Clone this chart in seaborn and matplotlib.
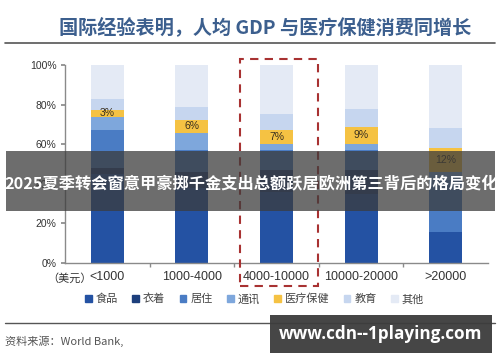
import matplotlib
matplotlib.use("Agg")
import matplotlib.pyplot as plt
import matplotlib.patches as mpatches
from matplotlib.lines import Line2D
import seaborn as sns
import numpy as np

# ---- data (percent of consumption, bottom to top) ----
categories = ['<1000', '1000-4000', '4000-10000', '10000-20000', '>20000']
series_names = ['食品', '衣着', '居住', '通讯', '医疗保健', '教育', '其他']
food      = [45.0, 38.0, 36.0, 35.0, 15.7]
clothing  = [3.0, 8.0, 11.0, 12.0, 0.0]
housing   = [19.2, 11.0, 10.0, 10.0, 26.3]
telecom   = [6.7, 8.8, 3.1, 3.0, 4.0]
medical   = [3.4, 6.4, 7.1, 8.8, 12.0]
education = [5.5, 6.8, 7.8, 9.2, 10.0]
other     = [17.2, 21.0, 25.0, 22.0, 32.0]
medical_labels = ['3%', '6%', '7%', '9%', '12%']
ytick_vals = [0, 20, 40, 60, 80, 100]
ytick_labels = ['0%', '20%', '40%', '60%', '80%', '100%']

colors = ['#2452a3', '#1d3f7c', '#4a7cc4', '#7ea7dc', '#f5c243', '#c6d6ef', '#e4eaf5']

sns.set_theme(style='white')
plt.rcParams['font.family'] = ['Liberation Sans', 'Noto Sans CJK SC', 'DejaVu Sans']

fig = plt.figure(figsize=(5, 3.62), dpi=100)
ax = fig.add_axes([0.13, 0.2735, 0.846, 0.547])

all_series = [food, clothing, housing, telecom, medical, education, other]
bottom = np.zeros(len(categories))
med_bottom = None
for name, vals, c in zip(series_names, all_series, colors):
    vals = np.array(vals, dtype=float)
    sns.barplot(x=categories, y=vals, bottom=bottom, color=c, width=0.39,
                errorbar=None, ax=ax, linewidth=0, saturation=1)
    if name == '医疗保健':
        med_bottom = bottom.copy()
    bottom = bottom + vals

for i, lab in enumerate(medical_labels):
    ax.text(i, med_bottom[i] + medical[i] / 2, lab, ha='center', va='center',
            fontsize=7.5, color='#3a3020')

ax.set_xlim(-0.5, 4.5)
ax.set_ylim(0, 100)
ax.set_yticks(ytick_vals)
ax.set_yticklabels(ytick_labels)
ax.set_xticks(range(len(categories)))
ax.set_xticklabels(categories)
ax.set_xticks([0.5, 1.5, 2.5, 3.5], minor=True)
ax.set_xlabel('')
ax.set_ylabel('')
for s in ['top', 'right']:
    ax.spines[s].set_visible(False)
for s in ['left', 'bottom']:
    ax.spines[s].set_color('#8a8a8a')
    ax.spines[s].set_linewidth(1.0)
ax.tick_params(axis='y', which='major', direction='out', length=3, color='#8a8a8a',
               labelsize=7.5, labelcolor='#333333', pad=3, left=True)
ax.tick_params(axis='x', which='major', length=0, labelsize=9, labelcolor='#333333', pad=6)
ax.tick_params(axis='x', which='minor', direction='out', length=3, color='#8a8a8a', bottom=True)

fig.text(92 / 500, 1 - 278 / 362, '（美元）', ha='right', va='center', fontsize=8,
         color='#333333', family=['Noto Sans CJK SC'])

# legend
handles = [mpatches.Patch(color=c, label=n) for n, c in zip(series_names, colors)]
fig.legend(handles=handles, loc='center', bbox_to_anchor=(0.509, 1 - 299 / 362), ncol=7,
           frameon=False, handlelength=0.6, handleheight=0.6,
           handletextpad=0.35, columnspacing=1.3, labelcolor='#444444',
           prop={'family': ['Noto Sans CJK SC'], 'size': 8})

# title and rules
fig.text(0.5 * (58 + 473) / 500, 1 - 27 / 362, '国际经验表明，人均 GDP 与医疗保健消费同增长',
         ha='center', va='center', fontsize=13.8, color='#3c5f8e', fontweight='bold',
         family=['Noto Sans CJK SC'])
fig.add_artist(Line2D([5 / 500, 495 / 500], [1 - 43 / 362] * 2, color='#555555', lw=1.2,
                      transform=fig.transFigure))
fig.add_artist(Line2D([5 / 500, 495 / 500], [1 - 323 / 362] * 2, color='#555555', lw=1.0,
                      transform=fig.transFigure))
fig.text(5 / 500, 1 - 341 / 362, '资料来源：World Bank,', ha='left', va='center',
         fontsize=8, color='#555555', family=['Noto Sans CJK SC'])

# dashed highlight box
fig.add_artist(mpatches.Rectangle((240 / 500, 1 - 286 / 362), 78 / 500, 227 / 362,
                                  fill=False, edgecolor='#a83232', lw=1.5, ls=(0, (4, 3)),
                                  transform=fig.transFigure))

# overlay banner
fig.add_artist(mpatches.Rectangle((6 / 500, 1 - 211 / 362), 489 / 500, 60 / 362,
                                  facecolor='#3c3c3c', alpha=0.75, edgecolor='none',
                                  transform=fig.transFigure, zorder=10))
fig.text(251 / 500, 1 - 183 / 362, '2025夏季转会窗意甲豪掷千金支出总额跃居欧洲第三背后的格局变化',
         ha='center', va='center', fontsize=11.7, color='white', fontweight='bold',
         family=['Noto Sans CJK SC'], zorder=11)

# watermark box
fig.add_artist(mpatches.Rectangle((270 / 500, 1 - 353 / 362), 222 / 500, 38 / 362,
                                  facecolor='#3c3c3c', alpha=0.95, edgecolor='none',
                                  transform=fig.transFigure, zorder=10))
fig.text(381 / 500, 1 - 334 / 362, 'www.cdn--1playing.com', ha='center', va='center',
         fontsize=12.3, color='white', fontweight='bold', family=['Open Sans', 'DejaVu Sans'],
         zorder=11)

fig.savefig('out.png', dpi=100)
